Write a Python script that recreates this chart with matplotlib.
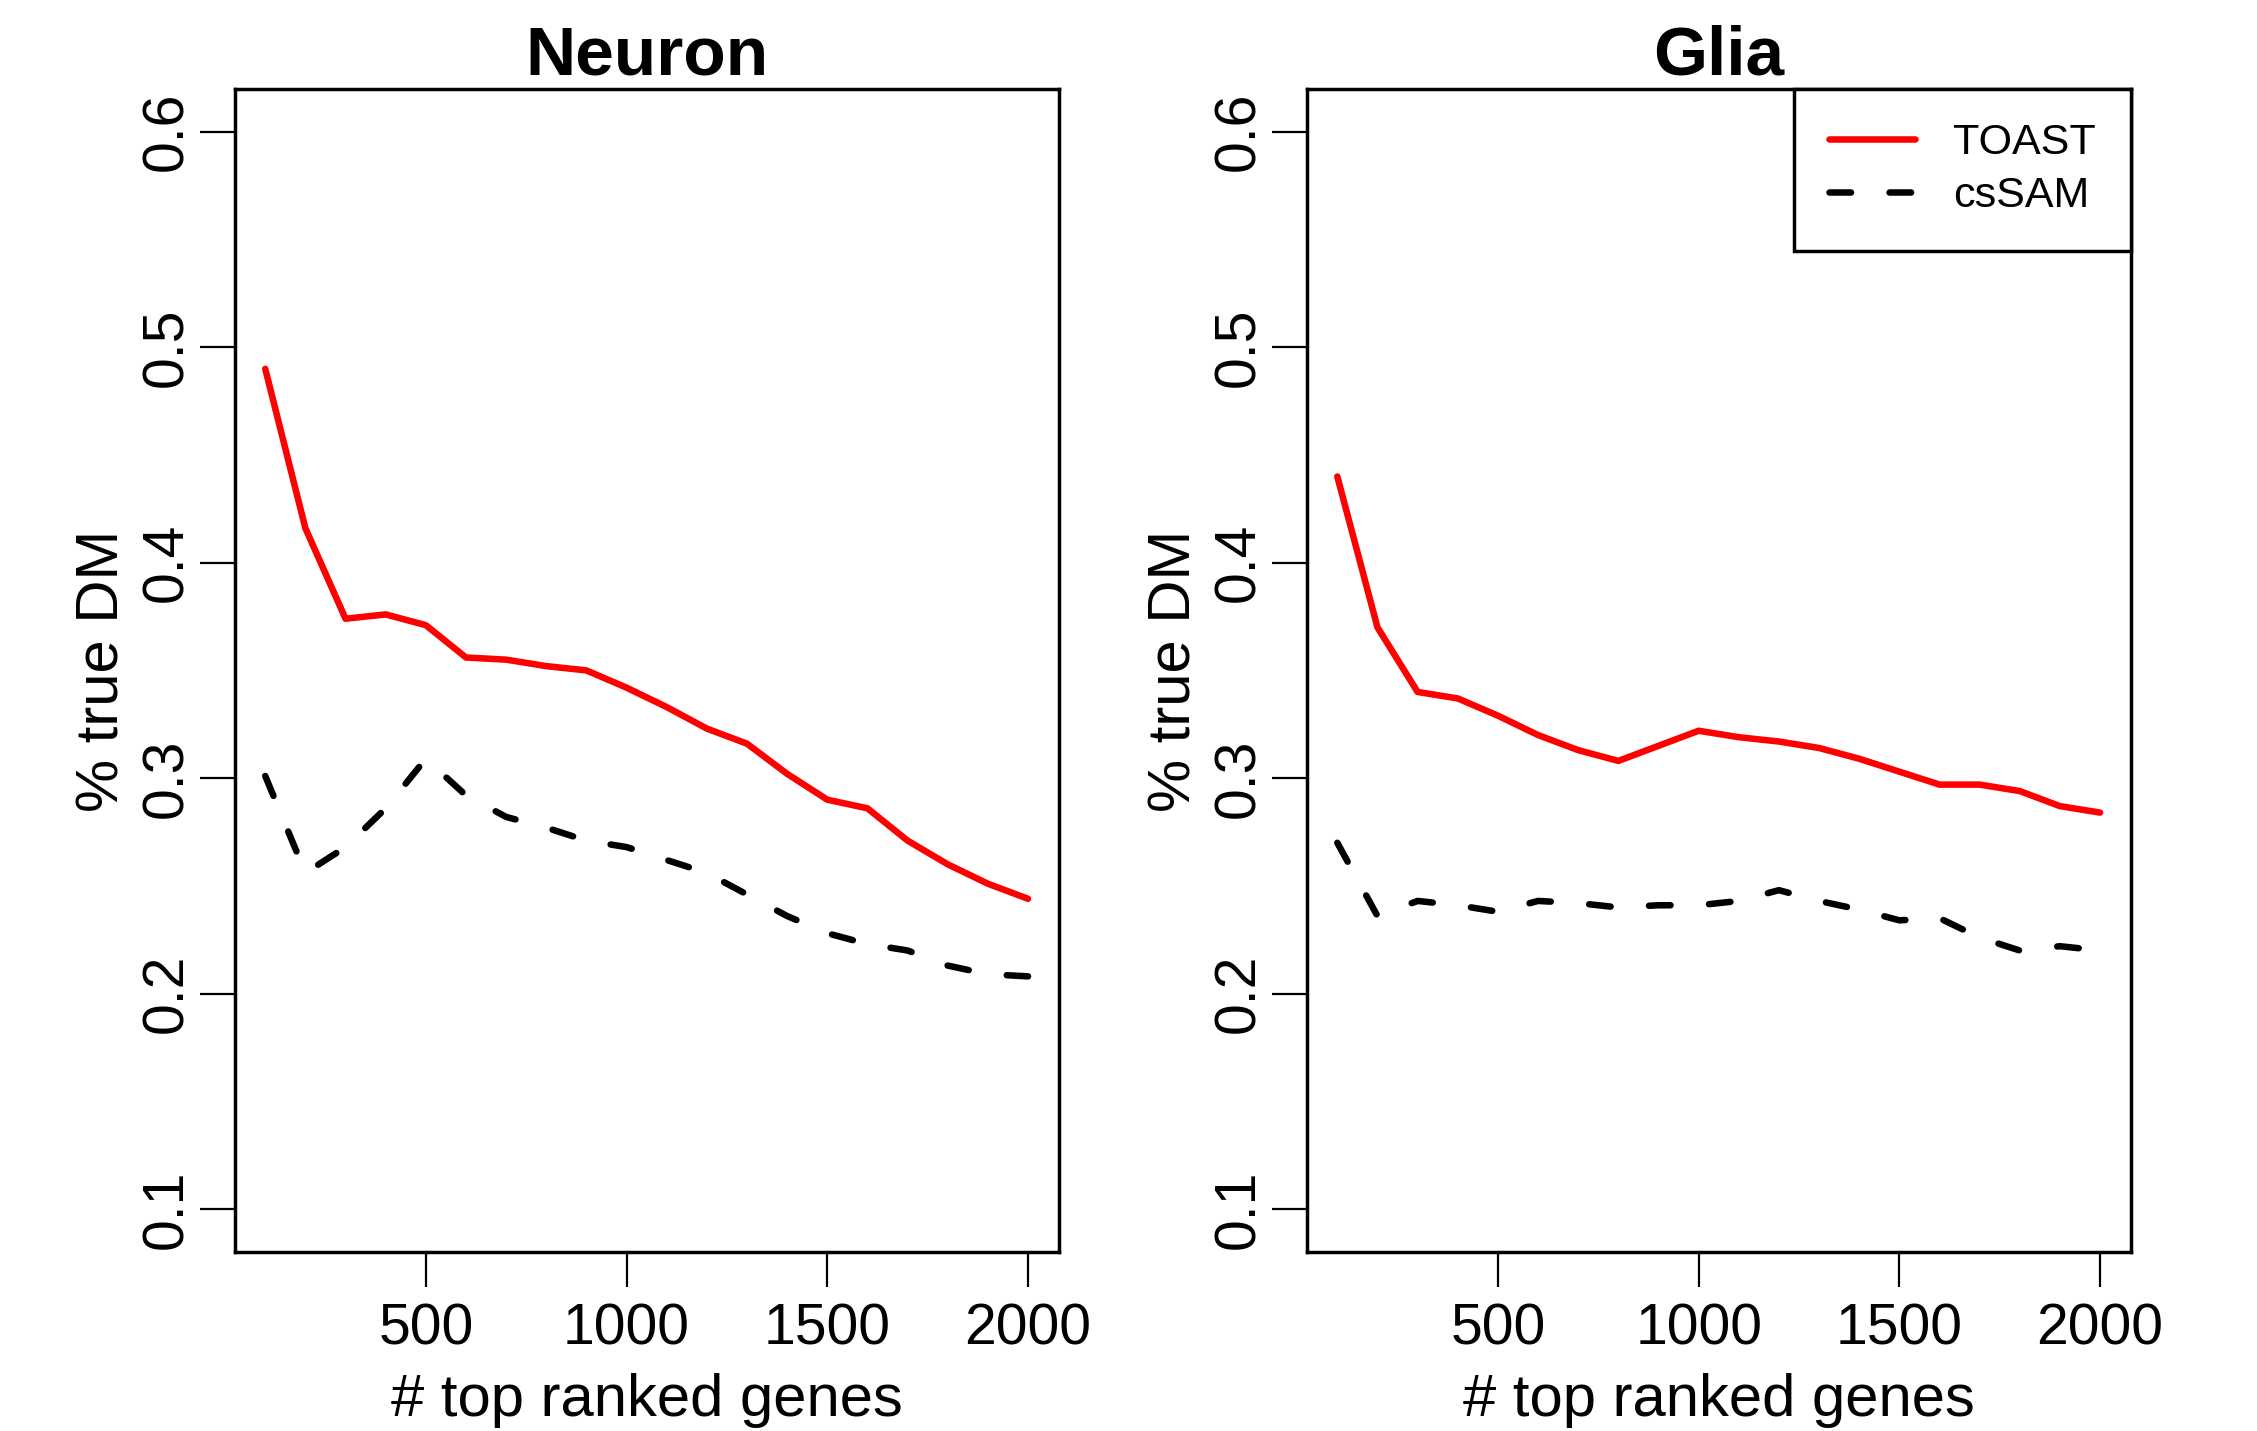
import matplotlib
matplotlib.use("Agg")
from matplotlib import pyplot as plt

plt.rcParams['font.family'] = ['Liberation Sans', 'DejaVu Sans']

# number of top ranked genes
n_genes = [100, 200, 300, 400, 500, 600, 700, 800, 900, 1000,
           1100, 1200, 1300, 1400, 1500, 1600, 1700, 1800, 1900, 2000]

neuron_toast = [0.490, 0.416, 0.374, 0.376, 0.371, 0.356, 0.355, 0.352, 0.350, 0.342,
                0.333, 0.323, 0.316, 0.302, 0.290, 0.286, 0.271, 0.260, 0.251, 0.244]
neuron_cssam = [0.301, 0.256, 0.268, 0.286, 0.309, 0.292, 0.282, 0.277, 0.271, 0.268,
                0.262, 0.256, 0.246, 0.236, 0.228, 0.223, 0.220, 0.213, 0.209, 0.208]
glia_toast = [0.440, 0.370, 0.340, 0.337, 0.329, 0.320, 0.313, 0.308, 0.315, 0.322,
              0.319, 0.317, 0.314, 0.309, 0.303, 0.297, 0.297, 0.294, 0.287, 0.284]
glia_cssam = [0.270, 0.236, 0.243, 0.241, 0.238, 0.243, 0.242, 0.240, 0.241, 0.241,
              0.243, 0.248, 0.243, 0.239, 0.234, 0.235, 0.226, 0.220, 0.222, 0.220]

panels = [("Neuron", neuron_toast, neuron_cssam),
          ("Glia", glia_toast, glia_cssam)]

xticks = [500, 1000, 1500, 2000]
yticks = [0.1, 0.2, 0.3, 0.4, 0.5, 0.6]

fig = plt.figure(figsize=(22.57, 14.31), dpi=100)
lefts = [0.104, 0.579]
width = 0.365
LW = 4.7

for i, (title, toast, cssam) in enumerate(panels):
    ax = fig.add_axes([lefts[i], 0.125, width, 0.813])
    ax.plot(n_genes, toast, color='red', lw=LW, solid_capstyle='round',
            solid_joinstyle='round', label='TOAST')
    ax.plot(n_genes, cssam, color='black', lw=LW, dashes=(3.3, 5.9),
            dash_capstyle='round', dash_joinstyle='round', label='csSAM')
    ax.set_xlim(24, 2076)
    ax.set_ylim(0.08, 0.62)
    ax.set_xticks(xticks)
    ax.set_xticklabels([str(t) for t in xticks])
    ax.set_yticks(yticks)
    ax.set_yticklabels([f"{t:.1f}" for t in yticks], rotation=90, va='center')
    ax.tick_params(axis='both', length=25, width=1.6, labelsize=41)
    ax.tick_params(axis='x', pad=11)
    ax.tick_params(axis='y', pad=4)
    for sp in ax.spines.values():
        sp.set_linewidth(2.5)
    ax.set_title(title, fontsize=50, fontweight='bold', pad=10)
    ax.set_xlabel("# top ranked genes", fontsize=43, labelpad=12)
    ax.set_ylabel("% true DM", fontsize=43, labelpad=7)
    if i == 1:
        leg = ax.legend(loc='upper right', bbox_to_anchor=(1, 1), borderaxespad=0,
                        fontsize=31, handlelength=2.0, handletextpad=0.9,
                        borderpad=0.8, labelspacing=0.3, fancybox=False,
                        framealpha=1, edgecolor='black')
        leg.get_frame().set_linewidth(2.5)

fig.savefig("out.png", dpi=100)
